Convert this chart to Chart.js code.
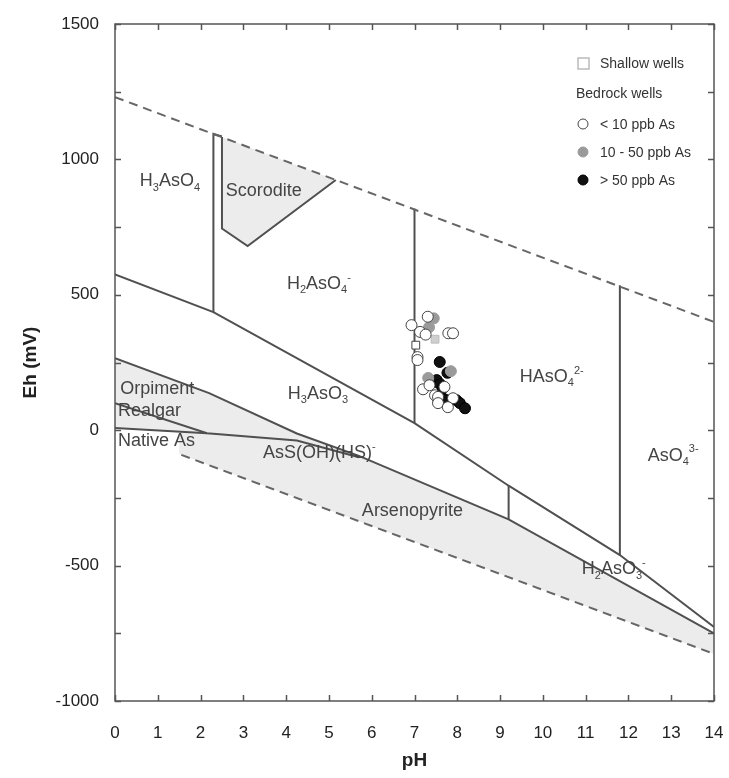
<!DOCTYPE html>
<html>
<head>
<meta charset="utf-8">
<script src="https://cdn.jsdelivr.net/npm/chart.js@4.4.1/dist/chart.umd.min.js"></script>
<style>
html, body { margin: 0; padding: 0; background: #fff; }
</style>
</head>
<body>
<canvas id="chart" width="729" height="778"></canvas>
<script>
const FONT = '"Liberation Sans", Arial, sans-serif';

// stability boundaries, [pH, Eh mV]
const upperWater = [[0, 1230], [14, 400]];
const lowerWater = [[1.55, -91], [14, -826]];
const lineA = [[0, 575], [2.3, 436], [7, 26], [9.2, -205], [11.8, -461], [14, -727]];
const lineB = [[0, 266], [2.2, 137], [4.25, -12], [5.7, -95], [9.2, -329], [14, -750]];
const lineC = [[0, 100], [2.15, -11], [4.25, -38], [5.7, -100]];
const lineD = [[0, 8], [2.15, -11]];
const ph23 = [[2.3, 436], [2.3, 1094], [2.5, 1085]];
const ph7 = [[7, 26], [7, 818]];
const ph92 = [[9.2, -205], [9.2, -329]];
const ph118 = [[11.8, -461], [11.8, 535]];
const scorodite = [[2.5, 1083], [2.5, 745], [3.1, 680], [5.16, 924]];
const sulfides = lineB.concat([[14, -826], [1.5, -88], [1.5, -8], [0, 8]]);

// wells
const bedLow = [[7.31, 419], [6.93, 388], [7.13, 363], [7.26, 353], [7.79, 358], [7.90, 358],
  [7.07, 270], [7.07, 259], [7.20, 151], [7.35, 166], [7.70, 160], [7.48, 129], [7.55, 123],
  [7.90, 118], [7.55, 100], [7.78, 85]];
const bedMid = [[7.45, 413], [7.34, 380], [7.85, 218], [7.32, 193]];
const bedHigh = [[7.59, 252], [7.77, 212], [7.44, 178], [7.52, 185], [7.60, 170], [7.66, 155],
  [7.55, 117], [7.67, 117], [7.75, 111], [7.98, 111], [8.06, 100], [8.18, 81]];
const shallowLow = [[7.03, 314]];
const shallowMid = [[7.48, 336]];

const pts = arr => arr.map(p => ({ x: p[0], y: p[1] }));

function boundary(arr, dashed) {
  return {
    data: pts(arr), borderColor: dashed ? '#666' : '#505050', borderWidth: 2,
    borderDash: dashed ? [9, 6] : [], pointRadius: 0, fill: false, tension: 0, order: 2
  };
}
function wells(arr, style, bg, border) {
  return {
    data: pts(arr), showLine: false, pointStyle: style, pointRadius: 5.5,
    backgroundColor: bg, borderColor: border, borderWidth: 1, order: 0
  };
}

// species labels: [pH, Eh, parts]
const speciesLabels = [
  [0.58, 900, [['H'], ['3', 'sub'], ['AsO'], ['4', 'sub']]],
  [2.59, 866, [['Scorodite']]],
  [4.02, 522, [['H'], ['2', 'sub'], ['AsO'], ['4', 'sub'], ['-', 'sup']]],
  [9.46, 178, [['HAsO'], ['4', 'sub'], ['2-', 'sup']]],
  [4.04, 116, [['H'], ['3', 'sub'], ['AsO'], ['3', 'sub']]],
  [0.12, 134, [['Orpiment']]],
  [0.07, 52, [['Realgar']]],
  [0.07, -58, [['Native As']]],
  [3.46, -104, [['AsS(OH)(HS)'], ['-', 'sup']]],
  [5.77, -318, [['Arsenopyrite']]],
  [10.91, -532, [['H'], ['2', 'sub'], ['AsO'], ['3', 'sub'], ['-', 'sup']]],
  [12.45, -112, [['AsO'], ['4', 'sub'], ['3-', 'sup']]]
];

function drawRich(ctx, x, y, parts, size) {
  let cx = x;
  parts.forEach(([txt, kind]) => {
    const s = kind ? Math.round(size * 0.6) : size;
    ctx.font = s + 'px ' + FONT;
    const dy = kind === 'sub' ? size * 0.25 : kind === 'sup' ? -size * 0.45 : 0;
    ctx.fillText(txt, cx, y + dy);
    cx += ctx.measureText(txt).width;
  });
}

const decor = {
  id: 'decor',
  afterDatasetsDraw(chart) {
    const { ctx, chartArea: a, scales: { x, y } } = chart;
    ctx.save();
    ctx.fillStyle = '#444';
    ctx.textBaseline = 'alphabetic';
    ctx.textAlign = 'left';
    speciesLabels.forEach(l => drawRich(ctx, x.getPixelForValue(l[0]), y.getPixelForValue(l[1]), l[2], 18));

    ctx.strokeStyle = '#555';
    ctx.lineWidth = 1.5;
    ctx.strokeRect(a.left, a.top, a.right - a.left, a.bottom - a.top);
    ctx.beginPath();
    x.ticks.forEach(t => {
      const px = Math.round(x.getPixelForValue(t.value)) + 0.5;
      ctx.moveTo(px, a.bottom); ctx.lineTo(px, a.bottom - 6);
      ctx.moveTo(px, a.top); ctx.lineTo(px, a.top + 6);
    });
    y.ticks.forEach(t => {
      const py = Math.round(y.getPixelForValue(t.value)) + 0.5;
      ctx.moveTo(a.left, py); ctx.lineTo(a.left + 6, py);
      ctx.moveTo(a.right, py); ctx.lineTo(a.right - 6, py);
    });
    ctx.stroke();
    ctx.restore();
  },
  afterDraw(chart) {
    const { ctx, chartArea: a } = chart;
    const lx = a.right - 138, ly = a.top;
    ctx.save();
    ctx.font = '14px ' + FONT;
    ctx.fillStyle = '#333';
    ctx.textBaseline = 'middle';
    ctx.strokeStyle = '#bbb';
    ctx.lineWidth = 1.5;
    ctx.strokeRect(lx + 2, ly + 34, 11, 11);
    ctx.fillText('Shallow wells', lx + 24, ly + 40);
    ctx.fillText('Bedrock wells', lx, ly + 70);
    const rows = [['< 10 ppb As', '#fff', '#444'], ['10 - 50 ppb As', '#9a9a9a', '#9a9a9a'], ['> 50 ppb As', '#111', '#000']];
    rows.forEach((r, i) => {
      const cy = ly + 100 + i * 28;
      ctx.beginPath();
      ctx.arc(lx + 7, cy, 5, 0, Math.PI * 2);
      ctx.fillStyle = r[1]; ctx.fill();
      ctx.strokeStyle = r[2]; ctx.lineWidth = 1; ctx.stroke();
      ctx.fillStyle = '#333';
      ctx.fillText(r[0], lx + 24, cy + 1);
    });
    ctx.restore();
  }
};

new Chart(document.getElementById('chart'), {
  type: 'line',
  data: {
    datasets: [
      wells(bedLow, 'circle', '#fff', '#444'),
      wells(bedMid, 'circle', '#9a9a9a', '#9a9a9a'),
      wells(bedHigh, 'circle', '#111', '#000'),
      wells(shallowLow, 'rect', '#fff', '#444'),
      wells(shallowMid, 'rect', '#cfcfcf', '#bbb'),
      boundary(upperWater, true),
      boundary(lowerWater, true),
      boundary(lineA), boundary(lineB), boundary(lineC), boundary(lineD),
      boundary(ph23), boundary(ph7), boundary(ph92), boundary(ph118),
      { data: pts(scorodite), borderColor: '#505050', borderWidth: 2, backgroundColor: '#ececec',
        fill: 'shape', pointRadius: 0, tension: 0, order: 3 },
      { data: pts(sulfides), borderWidth: 0, borderColor: 'rgba(0,0,0,0)', backgroundColor: '#ececec',
        fill: 'shape', pointRadius: 0, tension: 0, order: 4 }
    ]
  },
  options: {
    responsive: false,
    animation: false,
    devicePixelRatio: 1,
    layout: { padding: { top: 24, right: 15, left: 0, bottom: 0 } },
    plugins: { legend: { display: false }, tooltip: { enabled: false } },
    scales: {
      x: {
        type: 'linear', min: 0, max: 14,
        ticks: { stepSize: 1, color: '#222', font: { size: 17, family: FONT }, padding: 22, maxRotation: 0 },
        grid: { drawOnChartArea: false, drawTicks: false },
        border: { display: false },
        title: { display: true, text: 'pH', color: '#222', font: { size: 19, weight: 'bold', family: FONT }, padding: { top: 0, bottom: 6 } },
        afterFit: s => { s.height = 77; s.paddingLeft = 0; s.paddingRight = 0; }
      },
      y: {
        type: 'linear', min: -1000, max: 1500,
        ticks: { stepSize: 250, autoSkip: false, color: '#222', font: { size: 17, family: FONT }, padding: 16,
          callback: v => (v % 500 === 0 ? v : '') },
        grid: { drawOnChartArea: false, drawTicks: false },
        border: { display: false },
        title: { display: true, text: 'Eh (mV)', color: '#222', font: { size: 19, weight: 'bold', family: FONT }, padding: { top: 19, bottom: 0 } },
        afterFit: s => { s.width = 115; s.paddingTop = 0; s.paddingBottom = 0; }
      }
    }
  },
  plugins: [decor]
});
</script>
</body>
</html>
